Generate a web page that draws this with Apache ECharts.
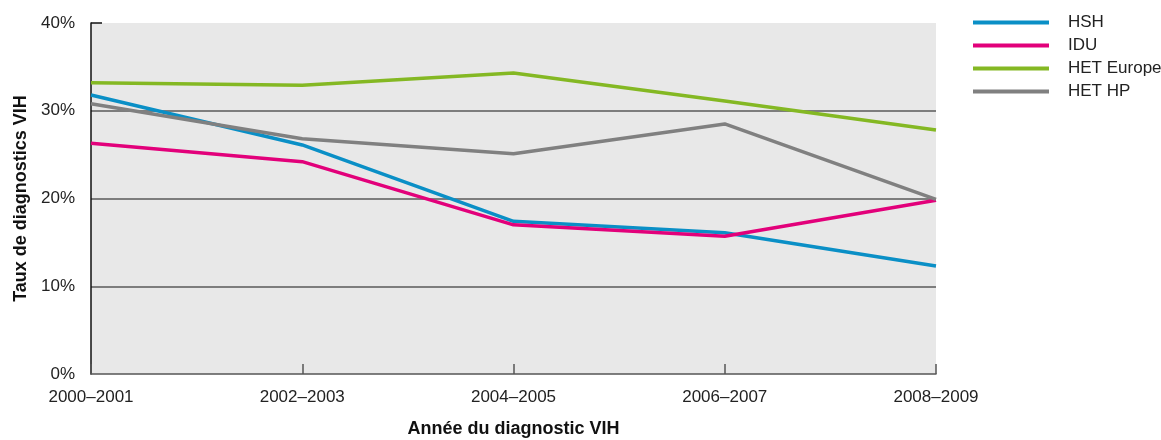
<!DOCTYPE html>
<html>
<head>
<meta charset="utf-8">
<script src="https://cdn.jsdelivr.net/npm/echarts@6/dist/echarts.min.js"></script>
<style>html,body{margin:0;padding:0;background:#fff;}#c{width:1161px;height:440px;}</style>
</head>
<body>
<div id="c"></div>
<script>
const categories = ['2000–2001', '2002–2003', '2004–2005', '2006–2007', '2008–2009'];
const hsh = [31.8, 26.1, 17.4, 16.1, 12.3];
const idu = [26.3, 24.2, 17.0, 15.7, 19.8];
const hetEurope = [33.2, 32.9, 34.3, 31.1, 27.8];
const hetHP = [30.8, 26.8, 25.1, 28.5, 19.9];
const seriesNames = ['HSH', 'IDU', 'HET Europe', 'HET HP'];
const colors = ['#0a8fc6', '#e2007a', '#84b823', '#808080'];
const yTicks = [0, 10, 20, 30, 40];

const font = "'Liberation Sans', Arial, sans-serif";
const chart = echarts.init(document.getElementById('c'), null, {renderer: 'canvas'});
const dataSets = [hsh, idu, hetEurope, hetHP];
chart.setOption({
  animation: false,
  color: colors,
  grid: {left: 91, right: 225, top: 23, bottom: 66, show: true, backgroundColor: '#e8e8e8', borderWidth: 0, containLabel: false, outerBoundsMode: 'none'},
  legend: {
    orient: 'vertical', left: 968, top: 9, itemWidth: 76, itemHeight: 4, itemGap: 6,
    icon: 'rect',
    textStyle: {fontFamily: font, fontSize: 17, color: '#222', padding: [0, 0, 0, 14]},
    data: seriesNames
  },
  xAxis: {
    type: 'category', data: categories, boundaryGap: false,
    axisLine: {lineStyle: {color: '#555', width: 1.5}},
    axisTick: {inside: true, length: 10, lineStyle: {color: '#555', width: 1.5}},
    axisLabel: {fontFamily: font, fontSize: 17, color: '#222', margin: 15, showMaxLabel: true, showMinLabel: true},
    name: 'Année du diagnostic VIH', nameLocation: 'middle', nameGap: 46,
    nameTextStyle: {fontFamily: font, fontSize: 18, fontWeight: 'bold', color: '#111'},
    splitLine: {show: false}
  },
  yAxis: {
    type: 'value', min: 0, max: 40, interval: 10,
    axisLine: {show: true, lineStyle: {color: '#111', width: 1.5}},
    axisTick: {show: false},
    axisLabel: {fontFamily: font, fontSize: 17, color: '#222', margin: 16, formatter: '{value}%'},
    splitLine: {show: true, lineStyle: {color: ['rgba(0,0,0,0)', '#5a5a5a', '#5a5a5a', '#5a5a5a', 'rgba(0,0,0,0)'], width: 1.5}},
    name: 'Taux de diagnostics VIH', nameLocation: 'middle', nameGap: 61,
    nameTextStyle: {fontFamily: font, fontSize: 18, fontWeight: 'bold', color: '#111'}
  },
  series: seriesNames.map((n, i) => ({
    name: n, type: 'line', data: dataSets[i], symbol: 'none', smooth: false,
    lineStyle: {width: 3.5, color: colors[i]},
    markLine: i === 0 ? {
      silent: true, symbol: 'none', label: {show: false},
      lineStyle: {color: '#111', width: 1.5, type: 'solid'},
      data: [[{xAxis: 0, yAxis: 40}, {x: 102, yAxis: 40}]]
    } : undefined
  }))
});
</script>
</body>
</html>
